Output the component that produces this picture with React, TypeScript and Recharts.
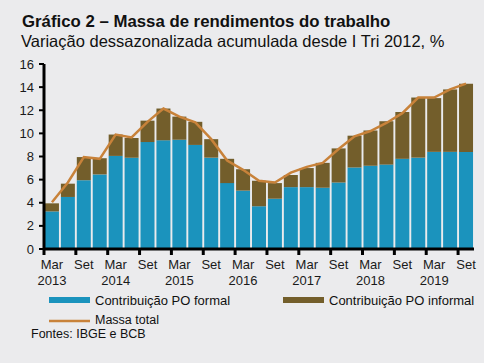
import React from 'react';
import { ComposedChart, Bar, Line, XAxis, YAxis } from 'recharts';

// quarterly periods, Mar 2013 .. Set 2019
const categories = [
  'Mar 2013', 'Jun 2013', 'Set 2013', 'Dez 2013',
  'Mar 2014', 'Jun 2014', 'Set 2014', 'Dez 2014',
  'Mar 2015', 'Jun 2015', 'Set 2015', 'Dez 2015',
  'Mar 2016', 'Jun 2016', 'Set 2016', 'Dez 2016',
  'Mar 2017', 'Jun 2017', 'Set 2017', 'Dez 2017',
  'Mar 2018', 'Jun 2018', 'Set 2018', 'Dez 2018',
  'Mar 2019', 'Jun 2019', 'Set 2019',
];

const formal = [
  3.25, 4.5, 5.95, 6.45, 8.05, 7.9, 9.25, 9.4, 9.45, 9.0, 7.9, 5.7, 5.05, 3.7,
  4.35, 5.35, 5.35, 5.3, 5.75, 7.05, 7.2, 7.3, 7.8, 7.9, 8.4, 8.4, 8.4,
];

const informal = [
  0.7, 1.15, 2.0, 1.4, 1.85, 1.7, 1.85, 2.75, 2.0, 2.0, 1.6, 2.1, 1.85, 2.2,
  1.35, 1.05, 1.65, 2.15, 2.95, 2.75, 3.05, 3.75, 4.05, 5.2, 4.65, 5.4, 5.9,
];

const massaTotal = [
  4.05, 5.75, 7.95, 7.8, 9.9, 9.65, 11.0, 12.15, 11.45, 10.95, 9.5, 7.65, 6.85,
  5.9, 5.75, 6.6, 7.1, 7.45, 8.65, 9.75, 10.2, 10.9, 11.75, 13.1, 13.1, 13.8, 14.3,
];

const yTicks = [0, 2, 4, 6, 8, 10, 12, 14, 16];

const data = categories.map((periodo, i) => ({
  periodo,
  formal: formal[i],
  informal: informal[i],
  total: massaTotal[i],
}));

const BLUE = '#1b93bd';
const OLIVE = '#735e2b';
const ORANGE = '#c8823a';
const FONT = '"Liberation Sans", Arial, sans-serif';

const PLOT_LEFT = 44;
const PLOT_RIGHT = 474;
const STEP = (PLOT_RIGHT - PLOT_LEFT) / categories.length;

function XTick(props: any) {
  const { x, y, payload } = props;
  const [month, year] = String(payload.value).split(' ');
  if (month !== 'Mar' && month !== 'Set') return null;
  const left = x - STEP / 2;
  return (
    <g>
      <line x1={left} x2={left} y1={y - 6} y2={y} stroke="#000" strokeWidth={3} />
      <text x={x} y={y + 14} textAnchor="middle" fontSize={13} fill="#1a1a1a" fontFamily={FONT}>
        {month}
      </text>
      {month === 'Mar' && (
        <text x={x} y={y + 30} textAnchor="middle" fontSize={13} fill="#1a1a1a" fontFamily={FONT}>
          {year}
        </text>
      )}
    </g>
  );
}

export default function App() {
  return (
    <div
      style={{
        position: 'fixed',
        left: 0,
        top: 0,
        width: 484,
        height: 363,
        background: '#ebebed',
        fontFamily: FONT,
        overflow: 'hidden',
      }}
    >
      <div style={{ position: 'absolute', left: 0, top: 0 }}>
        <ComposedChart
          width={484}
          height={300}
          data={data}
          margin={{ top: 64, right: 10, left: 0, bottom: 0 }}
          barCategoryGap="6%"
        >
          <XAxis
            dataKey="periodo"
            height={51}
            interval={0}
            tick={<XTick />}
            tickLine={false}
            tickSize={6}
            tickMargin={0}
            axisLine={{ stroke: '#000', strokeWidth: 3 }}
          />
          <YAxis
            width={44}
            domain={[0, 16]}
            ticks={yTicks}
            interval={0}
            tickSize={5}
            tickMargin={5}
            axisLine={{ stroke: '#000', strokeWidth: 3 }}
            tickLine={{ stroke: '#000', strokeWidth: 2 }}
            tick={{ fontSize: 13, fill: '#1a1a1a', fontFamily: FONT }}
          />
          <Bar dataKey="formal" stackId="a" fill={BLUE} isAnimationActive={false} />
          <Bar dataKey="informal" stackId="a" fill={OLIVE} isAnimationActive={false} />
          <Line
            type="linear"
            dataKey="total"
            stroke={ORANGE}
            strokeWidth={2.5}
            dot={false}
            isAnimationActive={false}
          />
        </ComposedChart>
      </div>

      <svg
        width={484}
        height={363}
        style={{ position: 'absolute', left: 0, top: 0, pointerEvents: 'none' }}
        fontFamily={FONT}
      >
        <text x={22} y={27} fontSize={16.8} fontWeight="bold" fill="#111">
          Gráfico 2 – Massa de rendimentos do trabalho
        </text>
        <text x={21} y={47} fontSize={16.5} fill="#111">
          Variação dessazonalizada acumulada desde I Tri 2012, %
        </text>

        <rect x={49} y={297} width={41} height={6} fill={BLUE} />
        <text x={95} y={305} fontSize={13} fill="#111">Contribuição PO formal</text>
        <rect x={283} y={297} width={41} height={6} fill={OLIVE} />
        <text x={329} y={305} fontSize={13} fill="#111">Contribuição PO informal</text>
        <line x1={49} x2={90} y1={321} y2={321} stroke={ORANGE} strokeWidth={2.5} />
        <text x={95} y={324} fontSize={12.5} fill="#111">Massa total</text>
        <text x={31} y={338} fontSize={12.5} fill="#111">Fontes: IBGE e BCB</text>
      </svg>
    </div>
  );
}
